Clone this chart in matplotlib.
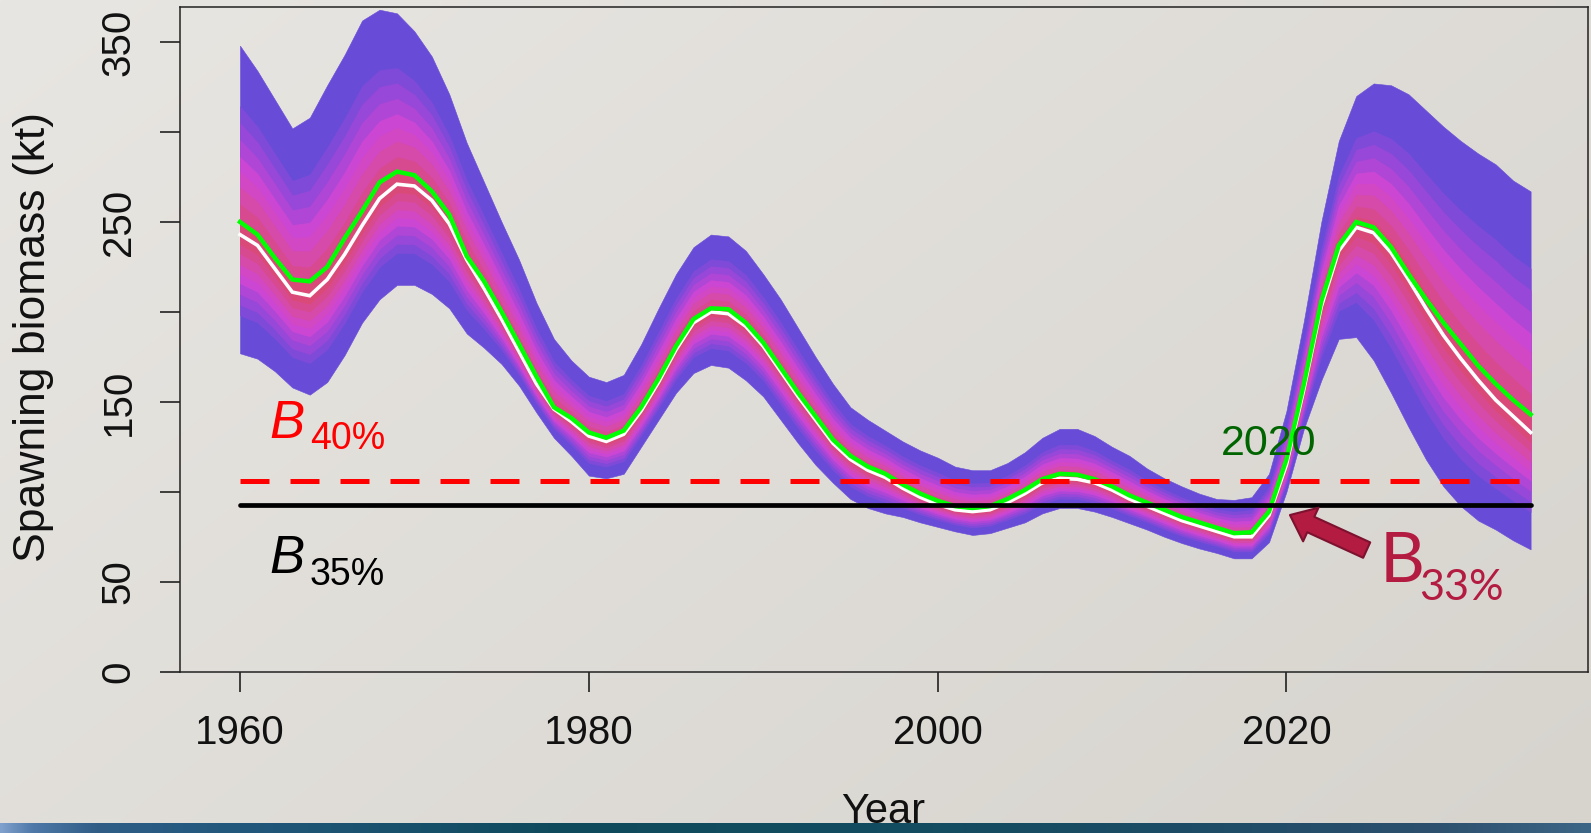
import numpy as np
import matplotlib
matplotlib.use("Agg")
import matplotlib.pyplot as plt
from matplotlib.patches import FancyArrowPatch
from matplotlib.colors import to_rgb

# ---------------- data ----------------
years = list(range(1960, 2035))

median = [243, 237, 224, 211, 209, 218, 232, 248, 263, 271,
          270, 262, 249, 229, 213, 196, 178, 160, 146, 139,
          131, 128, 132, 145, 161, 179, 194, 200, 199, 192,
          181, 167, 153, 140, 127, 118, 112, 108, 102, 97,
          93, 90, 89, 90, 94, 99, 105, 107.5, 107, 105,
          101, 96, 92, 88, 84, 81, 78, 75, 75, 87,
          115, 157, 203, 234, 247, 244, 233, 218, 202, 187,
          174, 162, 151, 142, 133]

mle = [250, 243, 230, 218, 217, 225, 241, 256, 272, 278,
       276, 267, 254, 231, 217, 200, 182, 164, 147, 141,
       133, 130, 134, 147, 163, 181, 196, 202, 201.5, 194,
       183, 169, 155, 142, 129, 120, 114, 110, 104, 99,
       95, 92, 91, 92, 96, 101, 107, 110, 109.5, 107,
       103, 98, 94, 90, 86, 83, 80, 77, 77.5, 89,
       118, 160, 206, 237, 250, 247, 236, 221, 207, 194,
       182, 170, 160, 151, 143]

upper = [348, 334, 318, 302, 308, 326, 343, 362, 368, 366,
         356, 342, 321, 294, 272, 250, 229, 205, 185, 173,
         164, 161, 165, 182, 202, 221, 236, 243, 242, 234,
         221, 207, 191, 175, 160, 147, 140, 134, 128, 123,
         119, 114, 112, 112, 116, 122, 130, 135, 135, 131,
         125, 120, 113, 107.5, 103, 99, 96, 95.5, 97, 110,
         145, 195, 250, 295, 320, 327, 326, 321, 312, 303,
         295, 288, 282, 273, 267]

lower = [177, 174, 167, 158, 154, 161, 176, 194, 207, 215,
         215, 210, 202, 188, 180, 171, 159, 144, 130, 120,
         109, 107.5, 110, 125, 140, 155, 166, 170.5, 169, 162,
         153, 140, 127, 115, 105, 96, 91, 88, 86, 83,
         80.5, 78, 76, 77, 80, 83, 88, 91, 91, 89,
         86, 82.5, 79, 75, 71.5, 68.5, 66, 63, 63, 72,
         100, 135, 162, 185, 186, 173, 155, 136, 118, 103,
         92, 84, 79, 73, 68]

b40 = 106.2
b35 = 92.9

xtick_vals = [1960, 1980, 2000, 2020]
ytick_vals = [0, 50, 100, 150, 200, 250, 300, 350]
ytick_labels = ["0", "50", "", "150", "", "250", "", "350"]

# fan: fraction of distance from median to outer bound, outer -> inner
fan_fracs = [1.0, 0.68, 0.59, 0.50, 0.41, 0.33, 0.25, 0.16, 0.08]
fan_colors = ["#684cd8", "#804ad8", "#9848d8", "#b046d6", "#cc46d4",
              "#d248c4", "#d64aaa", "#d84a90", "#da4a78"]

# ---------------- figure ----------------
W, H = 1591, 833
fig = plt.figure(figsize=(W / 100, H / 100), dpi=100)

bg = fig.add_axes([0, 0, 1, 1], zorder=-10)
bg.set_axis_off()
ny, nx = 120, 240
yy, xx = np.mgrid[0:1:ny * 1j, 0:1:nx * 1j]
c_a = np.array(to_rgb("#e8e6e2"))
c_b = np.array(to_rgb("#d7d4ce"))
t = np.clip(0.6 * xx + 0.4 * yy, 0, 1)[..., None]
bg.imshow(c_a * (1 - t) + c_b * t, extent=[0, W, 823, 0], aspect="auto",
          interpolation="bilinear")
stops_x = [0.0, 0.02, 0.06, 0.15, 0.35, 0.55, 0.75, 0.9, 1.0]
stops_c = ["#7f9fcc", "#4d78a8", "#2f5d86", "#22587c", "#0f4a5c",
           "#124c60", "#1d4c66", "#2c506e", "#3d6585"]
sx = np.linspace(0, 1, 400)
strip = np.stack([np.interp(sx, stops_x, [to_rgb(c)[k] for c in stops_c])
                  for k in range(3)], axis=-1)[None, :, :]
bg.imshow(np.repeat(strip, 4, axis=0), extent=[0, W, H, 823], aspect="auto",
          interpolation="bilinear")
bg.set_xlim(0, W)
bg.set_ylim(H, 0)

ax = fig.add_axes([180 / W, (H - 671.7) / H, (1588 - 180) / W, (671.7 - 7) / H])
ax.set_facecolor("none")

m = np.array(median, float)
u = np.array(upper, float)
l = np.array(lower, float)
for f, c in zip(fan_fracs, fan_colors):
    ax.fill_between(years, m - f * (m - l), m + f * (u - m), facecolor=c,
                    edgecolor=c, linewidth=0.4, zorder=2)

ax.plot(years, median, color="white", lw=2.6, zorder=4, solid_joinstyle="miter")
ax.plot(years, mle, color="#00ff00", lw=3.2, zorder=5, solid_joinstyle="miter")

ax.plot([years[0], years[-1]], [b40, b40], color="#ff0000", lw=3.6,
        linestyle=(0, (5.8, 4.2)), zorder=6)
ax.plot([years[0], years[-1]], [b35, b35], color="black", lw=3.4, zorder=6,
        solid_capstyle="round")

ax.set_xlim(1956.56, 2037.29)
ax.set_ylim(0, 369.5)

ax.set_xticks(xtick_vals)
ax.set_xticklabels([str(v) for v in xtick_vals], fontsize=29,
                   fontfamily="Liberation Sans")
ax.set_yticks(ytick_vals)
ax.set_yticklabels(ytick_labels, fontsize=29, fontfamily="Liberation Sans",
                   rotation=90, va="center")
ax.tick_params(axis="x", length=14.4, width=1.1, pad=16, colors="#111111")
ax.tick_params(axis="y", length=14.4, width=1.1, pad=16, colors="#111111")
for s in ax.spines.values():
    s.set_linewidth(1.1)
    s.set_color("#222222")

fig.text(34 / W, (H - 337) / H, "Spawning biomass (kt)", rotation=90,
         ha="center", va="center", fontsize=32, fontfamily="Liberation Sans",
         color="#111111")
fig.text(883.5 / W, (H - 823) / H, "Year", ha="center", va="baseline",
         fontsize=30, fontfamily="Liberation Sans", color="#111111")

# annotations
ax.text(1961.7, 129.9, "B", color="#ff0000", fontsize=38, style="italic",
        fontfamily="Liberation Sans", va="baseline", ha="left", zorder=7)
ax.text(1964.0, 123.8, "40%", color="#ff0000", fontsize=27,
        fontfamily="Liberation Sans", va="baseline", ha="left", zorder=7)
ax.text(1961.7, 54.7, "B", color="black", fontsize=38, style="italic",
        fontfamily="Liberation Sans", va="baseline", ha="left", zorder=7)
ax.text(1964.0, 48.2, "35%", color="black", fontsize=27,
        fontfamily="Liberation Sans", va="baseline", ha="left", zorder=7)
ax.text(2019.0, 120.5, "2020", color="#006400", fontsize=31,
        fontfamily="Liberation Sans", va="baseline", ha="center", zorder=7)
ax.text(2025.37, 50.0, "B", color="#b31b40", fontsize=50, fontfamily="Lato",
        va="baseline", ha="left", zorder=7, clip_on=False)
ax.text(2027.6, 39.9, "33%", color="#b31b40", fontsize=31, fontfamily="Lato",
        va="baseline", ha="left", zorder=7, clip_on=False)

arrow = FancyArrowPatch(posA=(2024.6, 67.6), posB=(2020.2, 87.1),
                        arrowstyle="simple,head_length=1.65,head_width=2.66,tail_width=1.22",
                        mutation_scale=10, facecolor="#b31b40",
                        edgecolor="#7d1230", lw=1.5, shrinkA=0, shrinkB=0,
                        zorder=8)
ax.add_patch(arrow)

fig.savefig("out.png", dpi=100)
